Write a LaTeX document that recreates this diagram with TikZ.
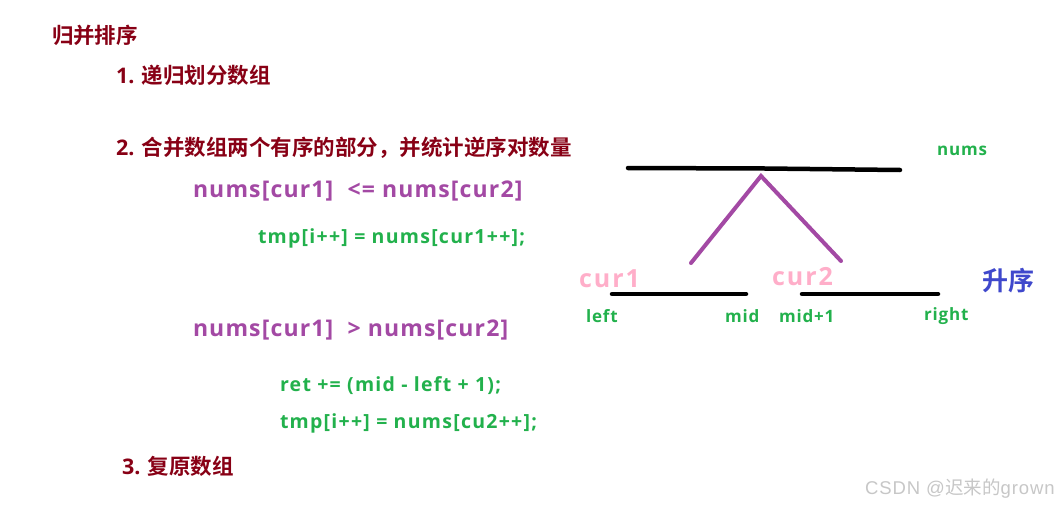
\documentclass[tikz,border=0pt]{standalone}
\usepackage{fontspec}
\setmainfont{Open Sans}[BoldFont={* Bold}]
\newfontfamily\cjk{Noto Sans CJK SC}[BoldFont={* Bold}]
\newfontfamily\wmfont{Liberation Sans}[LetterSpace=5]
\definecolor{darkred}{RGB}{136,0,21}
\definecolor{codepurple}{RGB}{163,73,164}
\definecolor{codegreen}{RGB}{34,177,76}
\definecolor{curpink}{RGB}{255,174,201}
\definecolor{ascblue}{RGB}{63,72,204}
\begin{document}
\begin{tikzpicture}[x=1pt,y=-1pt,
  every node/.style={inner sep=0pt,outer sep=0pt,anchor=west,font=\bfseries},
  heading/.style={text=darkred,font=\bfseries\fontsize{21.5}{24}\selectfont},
  cond/.style={text=codepurple,font=\bfseries\fontsize{23}{26}\selectfont\addfontfeature{LetterSpace=5}},
  code/.style={text=codegreen,font=\bfseries\fontsize{19.5}{22}\selectfont\addfontfeature{LetterSpace=6.5}},
  idx/.style={text=codegreen,font=\bfseries\fontsize{17}{19}\selectfont\addfontfeature{LetterSpace=5}},
  ptr/.style={text=curpink,font=\bfseries\fontsize{25}{29}\selectfont\addfontfeature{LetterSpace=8}},
  seg/.style={line width=4.5pt,line cap=round,black},
  vline/.style={line width=4pt,line cap=round,codepurple}]
\useasboundingbox (0,0) rectangle (1061,506);
\fill[white] (0,0) rectangle (1061,506);
% headings
\node[heading] (title) at (52,35) {\cjk\bfseries 归并排序};
\node[heading] (s1) at (116,75) {1. {\cjk\bfseries 递归划分数组}};
\node[heading] (s2) at (116,148) {2. {\cjk\bfseries 合并数组两个有序的部分，并统计逆序对数量}};
\node[heading] (s3) at (122,466) {3. {\cjk\bfseries 复原数组}};
% code
\node[cond] (c1) at (193,191) {nums[cur1]\ \ <= nums[cur2]};
\node[code] (a1) at (258,238) {tmp[i++] = nums[cur1++];};
\node[cond] (c2) at (193,330) {nums[cur1]\ \ > nums[cur2]};
\node[code] (a2) at (280,386) {ret += (mid - left + 1);};
\node[code] (a3) at (280,423) {tmp[i++] = nums[cu2++];};
% diagram
\coordinate (tl) at (628,168);
\coordinate (tm) at (765,168.5);
\coordinate (tr) at (900,170);
\draw[seg] (tl) -- (tm) -- (tr);
\coordinate (apex) at (761,176);
\coordinate (vl) at (691,263);
\coordinate (vr) at (841,261);
\draw[vline] (vl) -- (apex) -- (vr);
\coordinate (ll) at (612,294);
\coordinate (lr) at (746,294);
\coordinate (rl) at (802,294);
\coordinate (rr) at (938,294);
\draw[seg] (ll) -- (lr);
\draw[seg] (rl) -- (rr);
\node[idx] (nums) at (937,151) {nums};
\node[ptr] (cur1) at (579,279) {cur1};
\node[ptr] (cur2) at (772,277) {cur2};
\node[text=ascblue,font=\cjk\bfseries\fontsize{26}{30}\selectfont] (asc) at (982,281) {升序};
\node[idx] (left) at (586,316) {left};
\node[idx] (mid) at (725,316) {mid};
\node[idx] (mid1) at (779,316) {mid+1};
\node[idx] (right) at (924,316) {right};
% watermark
\node[text=black!22,font=\wmfont\fontsize{18.5}{21}\selectfont] (wm) at (865,489) {CSDN @{\cjk 迟来的}grown};
\end{tikzpicture}
\end{document}
